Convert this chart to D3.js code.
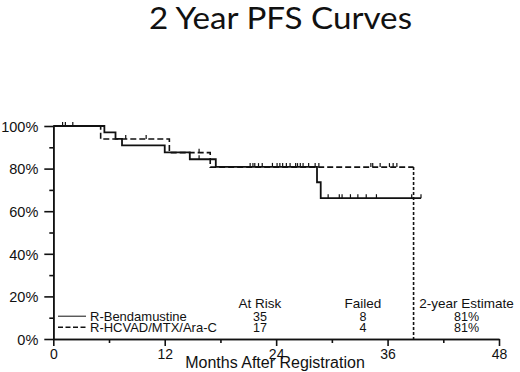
<!DOCTYPE html>
<html>
<head>
<meta charset="utf-8">
<script src="https://cdn.jsdelivr.net/npm/d3@7"></script>
<style>
  body { margin: 0; background: #fff; }
  svg { display: block; }
  text { font-family: "Liberation Sans", Arial, sans-serif; fill: #111; }
</style>
</head>
<body>
<svg id="chart" width="520" height="372"></svg>
<script>
// axis ticks
const xTicks = [0, 12, 24, 36, 48];
const xMinor = [6, 18, 30, 42];
const yTicks = [0, 20, 40, 60, 80, 100];
const yMinor = [10, 30, 50, 70, 90];

// R-Bendamustine: [month, % progression free]
const bendaSteps = [[0, 100], [5.5, 97.0], [6.7, 94.0], [7.4, 90.9], [12.0, 87.6], [14.7, 84.4], [17.5, 80.8], [28.4, 73.6], [28.8, 66.1]];
const bendaEnd = 39.6;
const bendaCensor = [1.0, 2.1, 15.7, 21.2, 21.5, 21.7, 22.5, 23.6, 24.1, 24.7, 25.1, 25.5, 26.1, 26.6, 26.9, 28.2,
                     29.6, 30.8, 31.1, 32.0, 32.8, 33.7, 34.8, 38.6, 39.6];

// R-HCVAD/MTX/Ara-C
const hcvadSteps = [[0, 100], [5.1, 93.9], [12.5, 87.5], [16.9, 80.7]];
const hcvadLast = 38.8; // last event, curve drops to 0
const hcvadCensor = [1.3, 7.8, 10.0, 15.7, 22.1, 24.4, 26.3, 27.5, 28.6, 34.2, 34.4, 35.2, 36.2, 36.6, 37.0];

// summary table
const groups = ["R-Bendamustine", "R-HCVAD/MTX/Ara-C"];
const atRisk = [35, 17];
const failed = [8, 4];
const estimate = ["81%", "81%"];

const svg = d3.select("#chart");
svg.append("rect").attr("width", 520).attr("height", 372).attr("fill", "#fff");

const x = d3.scaleLinear().domain([0, 48]).range([53.3, 499]);
const y = d3.scaleLinear().domain([0, 100]).range([339, 126]);

svg.append("text")
    .attr("x", 149).attr("y", 28.5)
    .attr("textLength", 263).attr("lengthAdjust", "spacingAndGlyphs")
    .style("font-family", "Lato, 'Open Sans', sans-serif")
    .style("font-size", "30px")
    .text("2 Year PFS Curves");

// axes
const gx = svg.append("g").attr("transform", "translate(0,339)");
gx.call(d3.axisBottom(x).tickValues(xMinor).tickSize(4).tickSizeOuter(0).tickFormat(""));
gx.append("g").call(d3.axisBottom(x).tickValues(xTicks).tickSize(7).tickSizeOuter(0).tickPadding(3));
gx.selectAll("text").style("font-size", "14px").attr("fill", "#111")
    .style("font-family", "'Liberation Sans', Arial, sans-serif");

const gy = svg.append("g").attr("transform", "translate(53.3,0)");
gy.call(d3.axisLeft(y).tickValues(yMinor).tickSize(4).tickSizeOuter(0).tickFormat(""));
gy.append("g").call(d3.axisLeft(y).tickValues(yTicks).tickSize(9).tickSizeOuter(0).tickPadding(6).tickFormat(d => d + "%"));
gy.selectAll("text").style("font-size", "14.5px").attr("fill", "#111").attr("dy", "0.36em")
    .style("font-family", "'Liberation Sans', Arial, sans-serif");

svg.selectAll(".domain, .tick line").attr("stroke", "#111").attr("stroke-width", 1.6);

svg.append("text")
    .attr("x", 275).attr("y", 368)
    .attr("text-anchor", "middle")
    .style("font-size", "16px")
    .text("Months After Registration");

// curves
const line = d3.line().x(d => x(d[0])).y(d => y(d[1])).curve(d3.curveStepAfter);

function valueAt(steps, t) {
    let v = steps[0][1];
    steps.forEach(s => { if (s[0] <= t) v = s[1]; });
    return v;
}

const hcvadPts = hcvadSteps.concat([[hcvadLast, hcvadSteps[hcvadSteps.length - 1][1]]]);
svg.append("path")
    .attr("d", line(hcvadPts))
    .attr("fill", "none").attr("stroke", "#111")
    .attr("stroke-width", 1.6).attr("stroke-dasharray", "6,3");
svg.append("line")
    .attr("x1", x(hcvadLast)).attr("x2", x(hcvadLast))
    .attr("y1", y(hcvadSteps[hcvadSteps.length - 1][1])).attr("y2", y(0))
    .attr("stroke", "#111").attr("stroke-width", 1.6).attr("stroke-dasharray", "3,2");

svg.append("g").selectAll("line")
    .data(hcvadCensor)
    .enter()
    .append("line")
    .attr("x1", d => x(d)).attr("x2", d => x(d))
    .attr("y1", d => y(valueAt(hcvadSteps, d)))
    .attr("y2", d => y(valueAt(hcvadSteps, d)) - 4)
    .attr("stroke", "#111").attr("stroke-width", 1.2);

const bendaPts = bendaSteps.concat([[bendaEnd, bendaSteps[bendaSteps.length - 1][1]]]);
svg.append("path")
    .attr("d", line(bendaPts))
    .attr("fill", "none").attr("stroke", "#111")
    .attr("stroke-width", 1.8);

svg.append("g").selectAll("line")
    .data(bendaCensor)
    .enter()
    .append("line")
    .attr("x1", d => x(d)).attr("x2", d => x(d))
    .attr("y1", d => y(valueAt(bendaSteps, d)))
    .attr("y2", d => y(valueAt(bendaSteps, d)) - 4)
    .attr("stroke", "#111").attr("stroke-width", 1.2);

// legend / summary
const rowY = [320.5, 331.5];
const leg = svg.append("g");
groups.forEach((g, i) => {
    leg.append("line")
        .attr("x1", 58).attr("x2", 86)
        .attr("y1", rowY[i] - 4.3).attr("y2", rowY[i] - 4.3)
        .attr("stroke", "#111").attr("stroke-width", i === 0 ? 1 : 1.4)
        .attr("stroke-dasharray", i === 0 ? null : "5,2.5");
    leg.append("text").attr("x", 90).attr("y", rowY[i]).style("font-size", "13px").text(g);
    leg.append("text").attr("x", 260).attr("y", rowY[i]).attr("text-anchor", "middle").style("font-size", "12.5px").text(atRisk[i]);
    leg.append("text").attr("x", 363).attr("y", rowY[i]).attr("text-anchor", "middle").style("font-size", "12.5px").text(failed[i]);
    leg.append("text").attr("x", 466.5).attr("y", rowY[i]).attr("text-anchor", "middle").style("font-size", "12.5px").text(estimate[i]);
});
const headers = [["At Risk", 260], ["Failed", 363], ["2-year Estimate", 466.5]];
headers.forEach(h => {
    leg.append("text").attr("x", h[1]).attr("y", 308.3).attr("text-anchor", "middle").style("font-size", "13.5px").text(h[0]);
});
</script>
</body>
</html>
